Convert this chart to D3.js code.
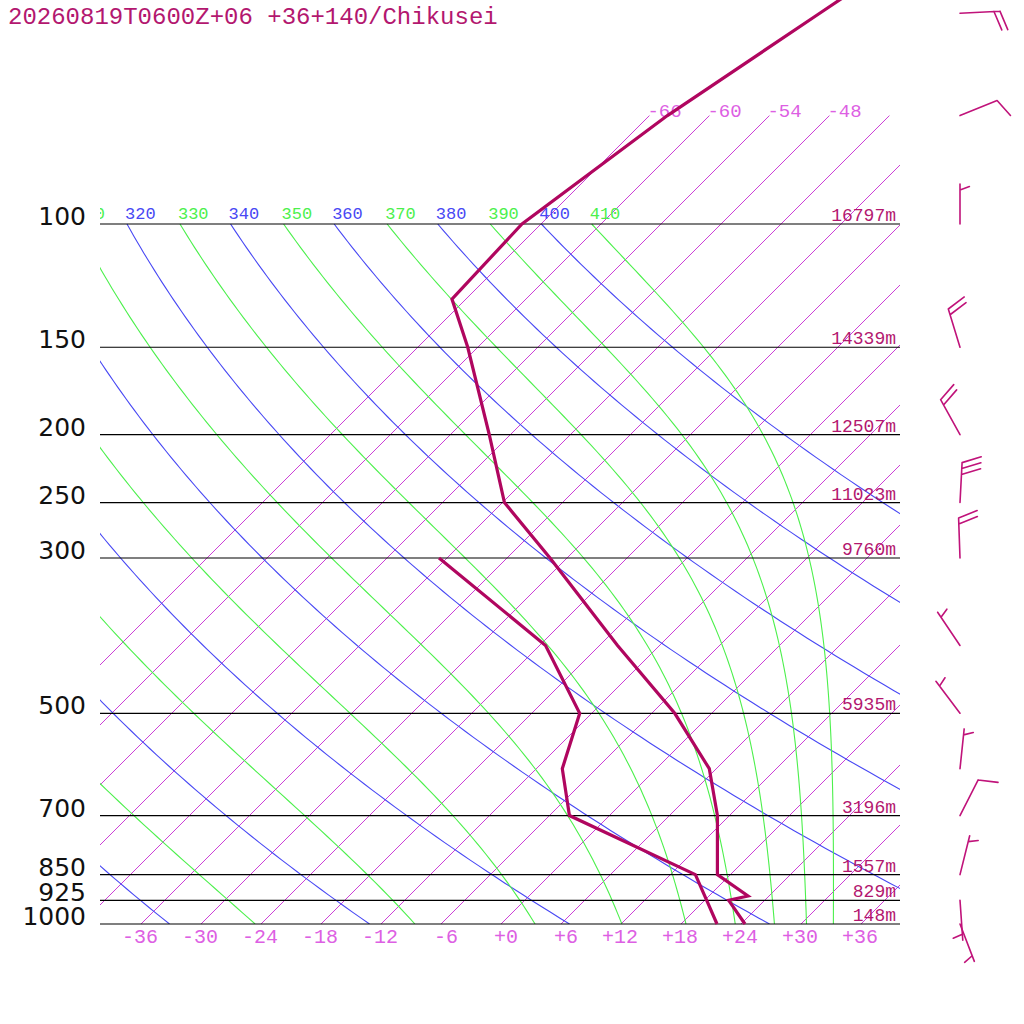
<!DOCTYPE html>
<html>
<head>
<meta charset="utf-8">
<script src="https://cdn.jsdelivr.net/npm/d3@7"></script>
<style>
  html, body { margin: 0; padding: 0; background: #fff; }
  svg { display: block; }
</style>
</head>
<body>
<svg id="chart"></svg>
<script>
'use strict';

const TITLE = '20260819T0600Z+06 +36+140/Chikusei';

// mandatory levels and their geopotential heights
const LEVELS = [100, 150, 200, 250, 300, 500, 700, 850, 925, 1000];
const HEIGHTS = ['16797m', '14339m', '12507m', '11023m', '9760m', '5935m', '3196m', '1557m', '829m', '148m'];

// temperature profile (hPa, degC)
const TEMP_P = [1000, 925, 912, 850, 700, 600, 500, 400, 300, 250, 200, 150, 128, 100, 70, 50, 40];
const TEMP_T = [24.4, 20.4, 21.9, 16.7, 10.8, 5.3, -3.7, -16.2, -31.7, -41.8, -50.1, -61.0, -67.4, -67.9, -64.2, -59.2, -55.9];

// dew point profile (hPa, degC)
const DEW_P = [1000, 925, 850, 700, 600, 500, 400, 300];
const DEW_T = [21.6, 18.2, 14.5, -4.0, -9.4, -13.2, -23.4, -42.8];

// winds (hPa, direction deg, speed kt)
const WIND_P = [50, 70, 100, 150, 200, 250, 300, 400, 500, 600, 700, 850, 925, 1000];
const WIND_DIR = [87, 68, 360, 343, 331, 3, 358, 326, 323, 6, 27, 14, 176, 159];
const WIND_KT = [20, 10, 5, 20, 20, 30, 20, 5, 5, 5, 10, 5, 5, 5];

// background lines
const ISOTHERMS = [-66, -60, -54, -48, -42, -36, -30, -24, -18, -12, -6, 0, 6, 12, 18, 24, 30, 36];
const THETA = [240, 260, 280, 300, 320, 340, 360, 380, 400];
const THETA_E = [250, 270, 290, 310, 330, 350, 370, 390, 410];

const W = 1024, H = 1024;
const LEFT = 100, RIGHT = 900, TOP = 224, BOTTOM = 924;
const ISO_TOP_P = 70;

const MONO = "'Liberation Mono', 'Courier New', monospace";
const SANS = "'DejaVu Sans', sans-serif";
const C_PROFILE = '#b0065f';
const C_TEXT = '#b3176f';
const C_ISO = '#cc3fd6';
const C_ISO_TXT = '#dd5fe3';
const C_THETA = '#4848f4';
const C_THETAE = '#4cf04c';

const y = d3.scaleLog().domain([1000, 100]).range([BOTTOM, TOP]);
const xT = d3.scaleLinear().domain([-40, 40]).range([101, 901]);

function skewX(t, p) {
  return xT(t) + (BOTTOM - y(p));
}

function fmtT(t) {
  return t > 0 ? '+' + t : (t === 0 ? '+0' : String(t));
}

function esat(tc) {
  return 6.112 * Math.exp(17.67 * tc / (tc + 243.5));
}

function thetaE(tk, p) {
  const es = esat(tk - 273.15);
  const r = Math.min(622 * es / Math.max(p - es, 1e-3), 200);
  return tk * Math.pow(1000 / p, 0.2854 * (1 - 0.00028 * r)) *
    Math.exp((3.376 / tk - 0.00254) * r * (1 + 0.00081 * r));
}

function moistT(te, p) {
  let lo = 150, hi = 320;
  for (let i = 0; i < 50; i++) {
    const mid = (lo + hi) / 2;
    if (thetaE(mid, p) > te) hi = mid; else lo = mid;
  }
  return (lo + hi) / 2 - 273.15;
}

const SAMPLE_P = d3.range(0, 121).map(i => 1000 * Math.pow(0.1, i / 120));

const svg = d3.select('#chart')
  .attr('width', W).attr('height', H)
  .attr('viewBox', `0 0 ${W} ${H}`);

svg.append('rect').attr('width', W).attr('height', H).attr('fill', '#fff');

svg.append('clipPath').attr('id', 'plot-clip')
  .append('rect').attr('x', LEFT).attr('y', 0)
  .attr('width', RIGHT - LEFT).attr('height', BOTTOM);

const line = d3.line().x(d => skewX(d.t, d.p)).y(d => y(d.p));

const bg = svg.append('g').attr('clip-path', 'url(#plot-clip)');

// isotherms
ISOTHERMS.forEach(t => {
  bg.append('path')
    .attr('d', line([{ p: 1000, t }, { p: ISO_TOP_P, t }]))
    .attr('fill', 'none').attr('stroke', C_ISO).attr('stroke-width', 1);
});

// dry adiabats
THETA.forEach(th => {
  const pts = SAMPLE_P.map(p => ({ p, t: th * Math.pow(p / 1000, 0.2857) - 273.15 }));
  bg.append('path').attr('d', line(pts))
    .attr('fill', 'none').attr('stroke', C_THETA).attr('stroke-width', 1.1);
});

// saturated adiabats
THETA_E.forEach(te => {
  const pts = SAMPLE_P.map(p => ({ p, t: moistT(te, p) }));
  bg.append('path').attr('d', line(pts))
    .attr('fill', 'none').attr('stroke', C_THETAE).attr('stroke-width', 1.1);
});

// theta labels along the 100 hPa line (clipped to the plot like the lines)
const thetaLabels = THETA.map(v => ({ v, t: v * Math.pow(0.1, 0.2857) - 273.15, c: C_THETA }))
  .concat(THETA_E.map(v => ({ v, t: moistT(v, 100), c: C_THETAE })));
thetaLabels.forEach(d => {
  const lx = skewX(d.t, 100) - 2;
  if (lx + 31 < LEFT || lx > RIGHT) return;
  bg.append('text')
    .attr('x', lx).attr('y', TOP - 5)
    .attr('font-family', MONO).attr('font-size', 17)
    .attr('fill', d.c).text(d.v);
});

// mandatory level lines
LEVELS.forEach(p => {
  svg.append('line')
    .attr('x1', LEFT).attr('x2', RIGHT)
    .attr('y1', y(p)).attr('y2', y(p))
    .attr('stroke', '#000').attr('stroke-width', 1.2);
});

// isotherm labels at top end, only where the label fits inside the plot
ISOTHERMS.forEach(t => {
  const xe = skewX(t, ISO_TOP_P);
  if (xe + 40 > RIGHT || xe < LEFT) return;
  svg.append('text')
    .attr('x', xe - 2).attr('y', y(ISO_TOP_P) + 1)
    .attr('font-family', MONO).attr('font-size', 19)
    .attr('fill', C_ISO_TXT).text(fmtT(t));
});

// isotherm labels at the bottom
ISOTHERMS.forEach(t => {
  const xb = skewX(t, 1000);
  if (xb > RIGHT || xb < LEFT) return;
  svg.append('text')
    .attr('x', xb + 17).attr('y', BOTTOM + 19)
    .attr('text-anchor', 'end')
    .attr('font-family', MONO).attr('font-size', 20)
    .attr('fill', C_ISO_TXT).text(fmtT(t));
});

// pressure labels
LEVELS.forEach(p => {
  svg.append('text')
    .attr('x', 86).attr('y', y(p) + 1)
    .attr('text-anchor', 'end')
    .attr('font-family', SANS).attr('font-size', 25)
    .attr('fill', '#111').text(p);
});

// heights
LEVELS.forEach((p, i) => {
  svg.append('text')
    .attr('x', 896).attr('y', y(p) - 3)
    .attr('text-anchor', 'end')
    .attr('font-family', MONO).attr('font-size', 18)
    .attr('fill', C_TEXT).text(HEIGHTS[i]);
});

// profiles
const tempPts = TEMP_P.map((p, i) => ({ p, t: TEMP_T[i] }));
const dewPts = DEW_P.map((p, i) => ({ p, t: DEW_T[i] }));
[tempPts, dewPts].forEach(pts => {
  svg.append('path').attr('d', line(pts))
    .attr('fill', 'none').attr('stroke', C_PROFILE)
    .attr('stroke-width', 3.2).attr('stroke-linejoin', 'miter');
});

// wind barbs
const BARB_X = 960, STAFF = 40, FULL = 20, HALF = 10, GAP = 6;
const TILT = 20 * Math.PI / 180;
const barbs = svg.append('g')
  .attr('stroke', '#c0137a').attr('stroke-width', 1.6)
  .attr('fill', 'none').attr('stroke-linecap', 'round');

WIND_P.forEach((p, i) => {
  const a = WIND_DIR[i] * Math.PI / 180;
  const ux = Math.sin(a), uy = -Math.cos(a);
  const nx = -uy, ny = ux;
  const bx = Math.cos(TILT) * nx + Math.sin(TILT) * ux;
  const by = Math.cos(TILT) * ny + Math.sin(TILT) * uy;
  const x0 = BARB_X, y0 = y(p);
  const path = d3.path();
  path.moveTo(x0, y0);
  path.lineTo(x0 + STAFF * ux, y0 + STAFF * uy);
  const kt = WIND_KT[i];
  const nFull = Math.floor(kt / 10);
  const hasHalf = kt % 10 >= 5;
  let off = 0;
  for (let k = 0; k < nFull; k++) {
    const sx = x0 + (STAFF - off) * ux, sy = y0 + (STAFF - off) * uy;
    path.moveTo(sx, sy);
    path.lineTo(sx + FULL * bx, sy + FULL * by);
    off += GAP;
  }
  if (hasHalf) {
    if (nFull === 0) off = GAP;
    const sx = x0 + (STAFF - off) * ux, sy = y0 + (STAFF - off) * uy;
    path.moveTo(sx, sy);
    path.lineTo(sx + HALF * bx, sy + HALF * by);
  }
  barbs.append('path').attr('d', path.toString());
});

// title
svg.append('text')
  .attr('x', 8).attr('y', 24)
  .attr('font-family', MONO).attr('font-size', 24)
  .attr('fill', C_TEXT).text(TITLE);
</script>
</body>
</html>
